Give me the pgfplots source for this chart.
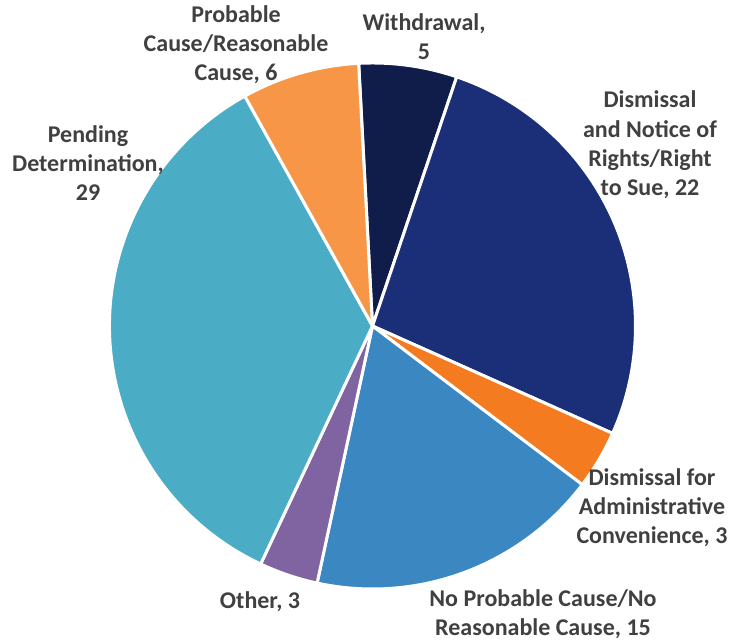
\documentclass[border=0pt]{standalone}
\usepackage{pgfplots}
\pgfplotsset{compat=1.18}
\usepackage{pgfplotstable}
\usepackage{fontspec}
\setmainfont{Carlito}
\definecolor{cWith}{HTML}{101D4B}
\definecolor{cDism}{HTML}{1B2E78}
\definecolor{cAdmin}{HTML}{F47B20}
\definecolor{cNoPC}{HTML}{3A87C2}
\definecolor{cOther}{HTML}{8064A2}
\definecolor{cPend}{HTML}{4BACC6}
\definecolor{cProb}{HTML}{F79646}
\definecolor{labelgray}{HTML}{404040}
\pgfplotstableread[col sep=comma]{
value,color
5,cWith
22,cDism
3,cAdmin
15,cNoPC
3,cOther
29,cPend
6,cProb
}\piedata
\begin{document}
\begin{tikzpicture}
\begin{axis}[hide axis, scale only axis, width=364.5pt, height=320.5pt,
  xmin=0, xmax=729, ymin=0, ymax=641, clip=false]
\path (axis cs:0,0) rectangle (axis cs:729,641);
\pgfplotstablegetrowsof{\piedata}
\pgfmathtruncatemacro{\nrows}{\pgfplotsretval-1}
\def\total{0}
\pgfplotsforeachungrouped \i in {0,...,\nrows}{%
  \pgfplotstablegetelem{\i}{value}\of\piedata
  \pgfmathsetmacro{\total}{\total+\pgfplotsretval}%
}
\def\cum{93}
\pgfplotsforeachungrouped \i in {0,...,\nrows}{%
  \pgfplotstablegetelem{\i}{value}\of\piedata
  \let\v\pgfplotsretval
  \pgfplotstablegetelem{\i}{color}\of\piedata
  \let\c\pgfplotsretval
  \pgfmathsetmacro{\endang}{\cum - \v/\total*360}%
  \edef\temp{\noexpand\filldraw[fill=\c, draw=white, line width=1.5pt, line join=round]
    (axis cs:372.5,315) -- ++(\cum:131.5pt) arc[start angle=\cum, end angle=\endang, radius=131.5pt] -- cycle;}%
  \temp
  \let\cum\endang
}
\tikzset{lab/.style={align=center, font=\fontsize{12}{14.6}\selectfont\bfseries, text=labelgray, inner sep=0pt}}
\node[lab] at (axis cs:236,596) {Probable\\Cause/Reasonable\\Cause, 6};
\node[lab] at (axis cs:424,604) {Withdrawal,\\5};
\node[lab] at (axis cs:88,478) {Pending\\Determination,\\29};
\node[lab] at (axis cs:650,496) {Dismissal\\and Notice of\\Rights/Right\\to Sue, 22};
\node[lab] at (axis cs:652,133) {Dismissal for\\Administrative\\Convenience, 3};
\node[lab] at (axis cs:260,39) {Other, 3};
\node[lab] at (axis cs:543,27) {No Probable Cause/No\\Reasonable Cause, 15};
\end{axis}
\end{tikzpicture}
\end{document}
